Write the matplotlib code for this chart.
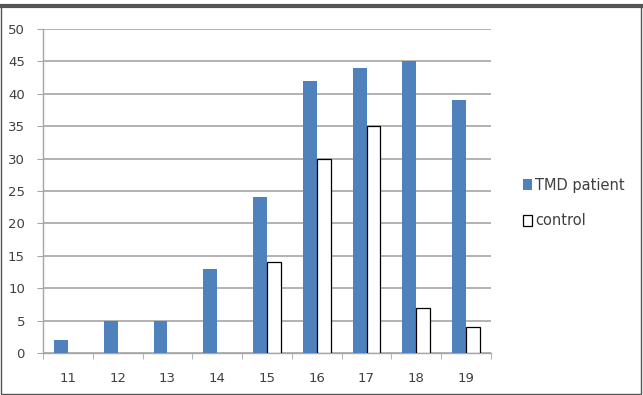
import numpy as np
import matplotlib
matplotlib.use("Agg")
import matplotlib.pyplot as plt
from matplotlib.patches import Rectangle, Patch

# ── Data ─────────────────────────────────────────────────────────────
ages = ["11", "12", "13", "14", "15", "16", "17", "18", "19"]
tmd_patient = [2, 5, 5, 13, 24, 42, 44, 45, 39]
control = [0, 0, 0, 0, 14, 30, 35, 7, 4]

BLUE = "#4f81bd"
GRID = "#a6a6a6"
TXT = "#404040"

fig = plt.figure(figsize=(6.43, 3.95), dpi=100)
fig.patch.set_facecolor("white")
ax = fig.add_axes([43 / 643, 1 - 353 / 395, (491 - 43) / 643, (353 - 29) / 395])

x = np.arange(len(ages))
w = 0.28
ax.bar(x - w / 2, tmd_patient, w, color=BLUE, zorder=3)
ctrl = ax.bar(x + w / 2, control, w, facecolor="white", edgecolor="black",
              linewidth=0.9, zorder=3)
for rect, v in zip(ctrl, control):
    if v == 0:
        rect.set_visible(False)

ax.set_xlim(-0.5, len(ages) - 0.5)
ax.set_ylim(0, 50)
ax.set_yticks(range(0, 51, 5))
ax.set_xticks(x)
ax.set_xticklabels(ages)
ax.set_xticks(np.arange(-0.5, len(ages), 1), minor=True)
ax.tick_params(axis="x", which="major", length=0, pad=14, labelsize=9.5, labelcolor=TXT)
ax.tick_params(axis="x", which="minor", length=4, color=GRID, direction="out")
ax.tick_params(axis="y", length=4, color=GRID, labelsize=9.5, labelcolor=TXT, pad=9)

ax.yaxis.grid(True, color=GRID, linewidth=1.2, zorder=0)
for side in ("top", "right"):
    ax.spines[side].set_visible(False)
for side in ("left", "bottom"):
    ax.spines[side].set_color(GRID)
    ax.spines[side].set_linewidth(1.0)

handles = [Patch(facecolor=BLUE, label="TMD patient"),
           Patch(facecolor="white", edgecolor="black", linewidth=0.9, label="control")]
fig.legend(handles=handles, loc="center left", bbox_to_anchor=(510 / 643, 1 - 203 / 395),
           frameon=False, fontsize=10.5, handlelength=0.6, handleheight=0.8,
           handletextpad=0.2, labelspacing=1.4, labelcolor=TXT)

# outer frame of the picture
fig.patches.append(Rectangle((0.002, 0.003), 0.995, 0.985, transform=fig.transFigure,
                             fill=False, edgecolor="#555555", linewidth=1.0))
fig.add_artist(plt.Line2D([0, 1], [0.985, 0.985], transform=fig.transFigure,
                          color="#555555", linewidth=3))

fig.savefig("out.png", dpi=100, facecolor=fig.get_facecolor())
